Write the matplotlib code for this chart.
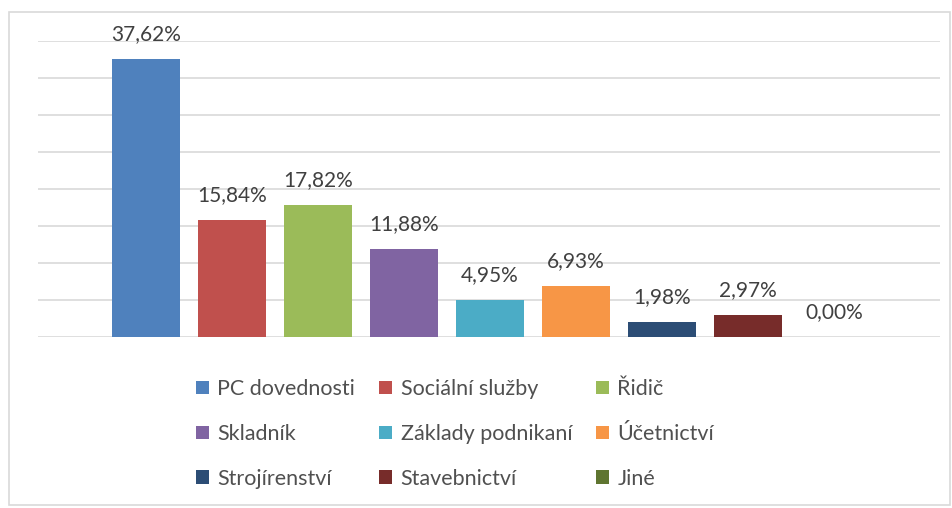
import numpy as np
import matplotlib.pyplot as plt
from matplotlib.patches import Rectangle, Patch

plt.rcParams['font.family'] = ['Lato', 'DejaVu Sans']

# data
kategorie = ["PC dovednosti", "Sociální služby", "Řidič", "Skladník",
             "Základy podnikaní", "Účetnictví", "Strojírenství",
             "Stavebnictví", "Jiné"]
hodnoty = [37.62, 15.84, 17.82, 11.88, 4.95, 6.93, 1.98, 2.97, 0.00]
barvy = ["#4f81bd", "#c0504d", "#9bbb59", "#8064a2", "#4bacc6",
         "#f79646", "#2c4d75", "#772c2a", "#5f7530"]

W, H = 953, 508
fig = plt.figure(figsize=(W / 100, H / 100), dpi=100)

# ramecek okolo grafu
fig.patches.append(Rectangle((9 / W, 1 - 505 / H), 941 / W, 493 / H,
                             transform=fig.transFigure, fill=False,
                             edgecolor="#d9d9d9", linewidth=1.2))

ax = fig.add_axes([38 / W, 1 - 337 / H, 902 / W, 296 / H])
x = np.arange(len(hodnoty))
ax.bar(x, hodnoty, width=0.79, color=barvy, zorder=3)
for xi, v in zip(x, hodnoty):
    ax.text(xi, v + 2.0, ("%.2f%%" % v).replace(".", ","), ha="center",
            va="bottom", fontsize=15, color="#404040", zorder=4)

ax.set_xlim(-1.256, 9.23)
ax.set_ylim(0, 40)
ax.set_yticks(np.arange(0, 41, 5))
ax.yaxis.grid(True, color="#d9d9d9", linewidth=1.2, zorder=0)
ax.tick_params(left=False, bottom=False, labelleft=False, labelbottom=False)
for s in ax.spines.values():
    s.set_visible(False)

# legenda po radcich
poradi = [0, 3, 6, 1, 4, 7, 2, 5, 8]
handles = [Patch(facecolor=barvy[i], label=kategorie[i]) for i in poradi]
fig.legend(handles=handles, ncol=3, loc="center", frameon=False,
           bbox_to_anchor=(455 / W, 1 - 434 / H), fontsize=15.5,
           labelcolor="#505050", handlelength=0.6, handleheight=0.6,
           handletextpad=0.4, columnspacing=1.1, labelspacing=1.15)

fig.savefig("out.png", dpi=100)
